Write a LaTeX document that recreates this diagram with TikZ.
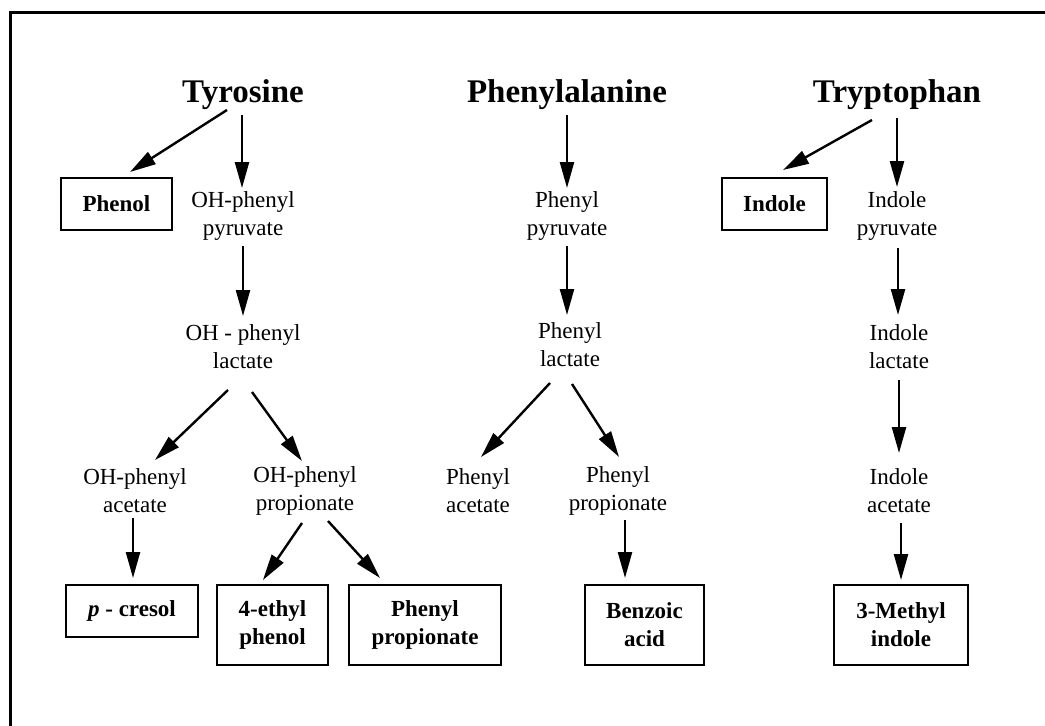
\documentclass[tikz,border=0pt]{standalone}
\usepackage{fontspec}
\setmainfont{Liberation Serif}
\usetikzlibrary{arrows.meta}
\begin{document}
\begin{tikzpicture}[x=1pt,y=-1pt,
  title/.style={font=\fontsize{33}{38}\selectfont\bfseries, inner sep=0pt},
  txt/.style={font=\fontsize{23}{28}\selectfont, align=center, inner sep=0pt},
  prod/.style={draw, line width=2.6pt, font=\fontsize{23}{28}\selectfont\bfseries, align=center, inner sep=0pt},
  arr/.style={line width=2.4pt, -{Triangle[length=26pt,width=14pt]}}]
\useasboundingbox (0,0) rectangle (1045,726);
\draw[line width=3pt] (10,726) -- (10,12) -- (1045,12);
% titles
\node[title] (tyr) at (243,95) {Tyrosine};
\node[title] (phe) at (567,95) {Phenylalanine};
\node[title] (trp) at (897,95) {Tryptophan};
% tyrosine column
\node[prod, minimum width=111pt, minimum height=52pt] (phenol) at (116.5,204) {Phenol};
\node[txt] (ohpp) at (243,216) {OH-phenyl\\pyruvate};
\node[txt] (ohpl) at (243,347) {OH - phenyl\\lactate};
\node[txt] (ohpa) at (135,491) {OH-phenyl\\acetate};
\node[txt] (ohpr) at (305,491) {OH-phenyl\\propionate};
\node[prod, minimum width=132pt, minimum height=52pt] (pcresol) at (132,611) {\textit{p} - cresol};
\node[prod, minimum width=111pt, minimum height=80pt] (ethyl) at (272.5,625) {4-ethyl\\phenol};
\node[prod, minimum width=152pt, minimum height=80pt] (phprop) at (425,625) {Phenyl\\propionate};
% phenylalanine column
\node[txt] (pp) at (567,216) {Phenyl\\pyruvate};
\node[txt] (pl) at (570,345) {Phenyl\\lactate};
\node[txt] (pa) at (478,491) {Phenyl\\acetate};
\node[txt] (ppr) at (618,491) {Phenyl\\propionate};
\node[prod, minimum width=119pt, minimum height=80pt] (benz) at (644.5,625) {Benzoic\\acid};
% tryptophan column
\node[prod, minimum width=105pt, minimum height=52pt] (indole) at (774.5,204) {Indole};
\node[txt] (ip) at (897,216) {Indole\\pyruvate};
\node[txt] (il) at (899,347) {Indole\\lactate};
\node[txt] (ia) at (899,491) {Indole\\acetate};
\node[prod, minimum width=134pt, minimum height=80pt] (mi) at (901,625) {3-Methyl\\indole};
% arrows
\draw[arr] ([shift={(-16,15)}]tyr.center) -- ([shift={(13.5,-32)}]phenol.center);
\draw[arr] ([shift={(-1,20)}]tyr.center) -- ([shift={(-1,-28)}]ohpp.center);
\draw[arr] ([shift={(0,30)}]ohpp.center) -- ([shift={(0,-31)}]ohpl.center);
\draw[arr] ([shift={(-15,43)}]ohpl.center) -- ([shift={(20,-31)}]ohpa.center);
\draw[arr] ([shift={(9,45)}]ohpl.center) -- ([shift={(-3,-30)}]ohpr.center);
\draw[arr] ([shift={(-2,27)}]ohpa.center) -- ([shift={(1,-33)}]pcresol.center);
\draw[arr] ([shift={(-3,32)}]ohpr.center) -- ([shift={(-9.5,-45)}]ethyl.center);
\draw[arr] ([shift={(23,30)}]ohpr.center) -- ([shift={(-45,-47)}]phprop.center);
\draw[arr] ([shift={(0,20)}]phe.center) -- ([shift={(0,-28)}]pp.center);
\draw[arr] ([shift={(0,30)}]pp.center) -- ([shift={(-3,-30)}]pl.center);
\draw[arr] ([shift={(-20,38)}]pl.center) -- ([shift={(3,-34)}]pa.center);
\draw[arr] ([shift={(2,39)}]pl.center) -- ([shift={(1,-34)}]ppr.center);
\draw[arr] ([shift={(7,29)}]ppr.center) -- ([shift={(-19.5,-47)}]benz.center);
\draw[arr] ([shift={(-25,25)}]trp.center) -- ([shift={(8.5,-34)}]indole.center);
\draw[arr] ([shift={(0,23)}]trp.center) -- ([shift={(0,-29)}]ip.center);
\draw[arr] ([shift={(1,32)}]ip.center) -- ([shift={(-1,-32)}]il.center);
\draw[arr] ([shift={(0,33)}]il.center) -- ([shift={(0,-38)}]ia.center);
\draw[arr] ([shift={(2,32)}]ia.center) -- ([shift={(0,-45)}]mi.center);
\end{tikzpicture}
\end{document}
